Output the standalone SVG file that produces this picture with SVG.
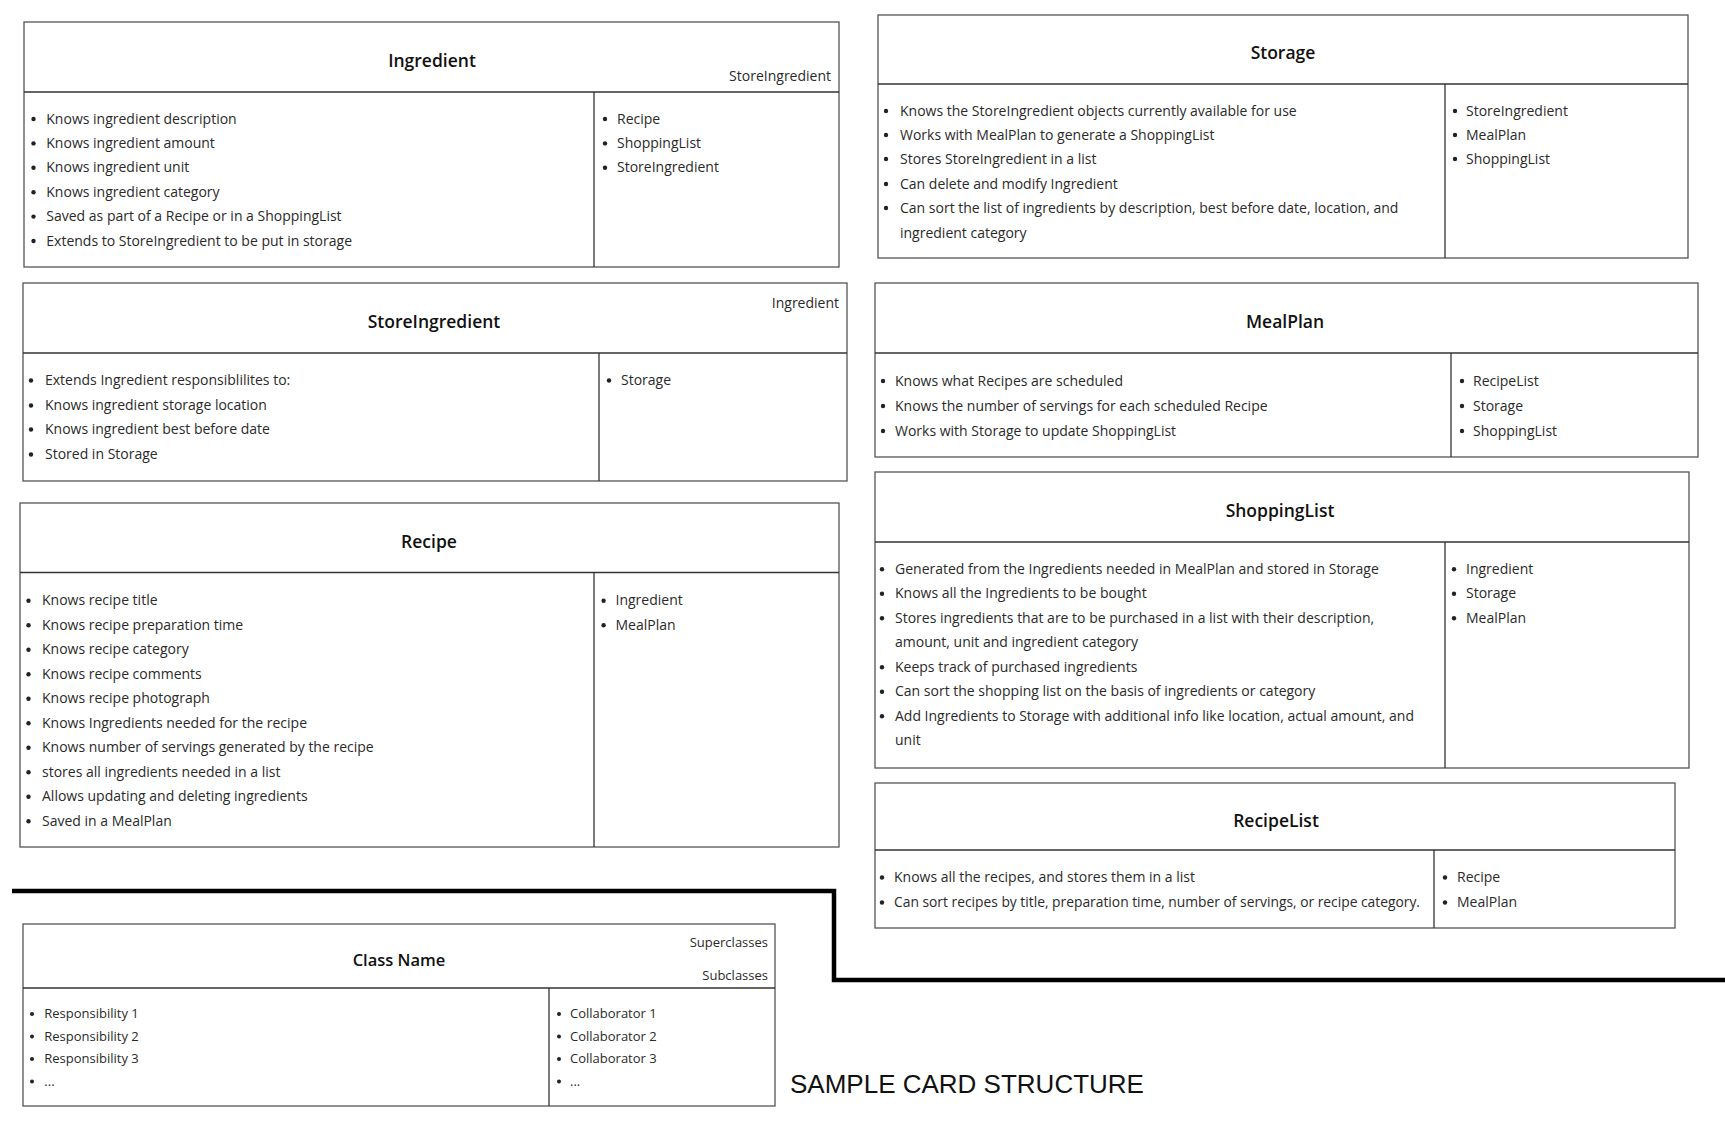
<svg xmlns="http://www.w3.org/2000/svg" width="1725" height="1121" viewBox="0 0 1725 1121">
<style>
.card{fill:#fff;stroke:#555;stroke-width:1.3}
.sep{stroke:#333;stroke-width:1.3}
.title{font-family:"Open Sans","Liberation Sans",sans-serif;font-size:17.5px;font-weight:600;fill:#111;text-anchor:middle}
.t{font-family:"Open Sans","Liberation Sans",sans-serif;font-size:14px;fill:#2a2a2a}
.s{font-family:"Open Sans","Liberation Sans",sans-serif;font-size:13px;fill:#2a2a2a}
.r{text-anchor:end}
.b{fill:#222}
</style>
<rect width="1725" height="1121" fill="#fff"/>
<g id="connectors">
<polyline points="12,891 834,891 834,980 1725,980" fill="none" stroke="#000" stroke-width="4.5"/>
</g>
<g id="ingredient">
<rect class="card" x="24" y="22" width="815" height="245"/>
<line class="sep" x1="24" y1="92" x2="839" y2="92"/>
<line class="sep" x1="594" y1="92" x2="594" y2="267"/>
<text class="title" x="432" y="67">Ingredient</text>
<text class="t r" x="831" y="81">StoreIngredient</text>
<g class="b"><circle cx="33.5" cy="119" r="2.2"/><circle cx="33.5" cy="143.4" r="2.2"/><circle cx="33.5" cy="167.8" r="2.2"/><circle cx="33.5" cy="192.2" r="2.2"/><circle cx="33.5" cy="216.6" r="2.2"/><circle cx="33.5" cy="241" r="2.2"/>
<circle cx="605" cy="119" r="2.2"/><circle cx="605" cy="143.4" r="2.2"/><circle cx="605" cy="167.8" r="2.2"/></g>
<text class="t" x="46.3" y="123.5">Knows ingredient description</text>
<text class="t" x="46.3" y="147.9">Knows ingredient amount</text>
<text class="t" x="46.3" y="172.3">Knows ingredient unit</text>
<text class="t" x="46.3" y="196.7">Knows ingredient category</text>
<text class="t" x="46.3" y="221.1">Saved as part of a Recipe or in a ShoppingList</text>
<text class="t" x="46.3" y="245.5">Extends to StoreIngredient to be put in storage</text>
<text class="t" x="617" y="123.5">Recipe</text>
<text class="t" x="617" y="147.9">ShoppingList</text>
<text class="t" x="617" y="172.3">StoreIngredient</text>
</g>
<g id="storage">
<rect class="card" x="878" y="15" width="810" height="243"/>
<line class="sep" x1="878" y1="84" x2="1688" y2="84"/>
<line class="sep" x1="1445" y1="84" x2="1445" y2="258"/>
<text class="title" x="1283" y="59">Storage</text>
<g class="b"><circle cx="886" cy="111" r="2.2"/><circle cx="886" cy="135" r="2.2"/><circle cx="886" cy="159" r="2.2"/><circle cx="886" cy="184" r="2.2"/><circle cx="886" cy="208" r="2.2"/>
<circle cx="1455" cy="111" r="2.2"/><circle cx="1455" cy="135" r="2.2"/><circle cx="1455" cy="159" r="2.2"/></g>
<text class="t" x="900" y="115.5">Knows the StoreIngredient objects currently available for use</text>
<text class="t" x="900" y="139.5">Works with MealPlan to generate a ShoppingList</text>
<text class="t" x="900" y="163.5">Stores StoreIngredient in a list</text>
<text class="t" x="900" y="188.5">Can delete and modify Ingredient</text>
<text class="t" x="900" y="212.5">Can sort the list of ingredients by description, best before date, location, and</text>
<text class="t" x="900" y="237.5">ingredient category</text>
<text class="t" x="1466" y="115.5">StoreIngredient</text>
<text class="t" x="1466" y="139.5">MealPlan</text>
<text class="t" x="1466" y="163.5">ShoppingList</text>
</g>
<g id="storeingredient">
<rect class="card" x="23" y="283" width="824" height="198"/>
<line class="sep" x1="23" y1="353" x2="847" y2="353"/>
<line class="sep" x1="599" y1="353" x2="599" y2="481"/>
<text class="title" x="434" y="328">StoreIngredient</text>
<text class="t r" x="839" y="308">Ingredient</text>
<g class="b"><circle cx="31" cy="380.5" r="2.2"/><circle cx="31" cy="405.5" r="2.2"/><circle cx="31" cy="429.5" r="2.2"/><circle cx="31" cy="454.5" r="2.2"/>
<circle cx="609" cy="380.5" r="2.2"/></g>
<text class="t" x="45" y="385">Extends Ingredient responsiblilites to:</text>
<text class="t" x="45" y="410">Knows ingredient storage location</text>
<text class="t" x="45" y="434">Knows ingredient best before date</text>
<text class="t" x="45" y="459">Stored in Storage</text>
<text class="t" x="621" y="385">Storage</text>
</g>
<g id="recipe">
<rect class="card" x="20" y="503" width="819" height="344"/>
<line class="sep" x1="20" y1="572.5" x2="839" y2="572.5"/>
<line class="sep" x1="594" y1="572.5" x2="594" y2="847"/>
<text class="title" x="429" y="548">Recipe</text>
<g class="b"><circle cx="28.5" cy="600.8" r="2.2"/><circle cx="28.5" cy="625.3" r="2.2"/><circle cx="28.5" cy="649.8" r="2.2"/><circle cx="28.5" cy="674.3" r="2.2"/><circle cx="28.5" cy="698.8" r="2.2"/><circle cx="28.5" cy="723.3" r="2.2"/><circle cx="28.5" cy="747.8" r="2.2"/><circle cx="28.5" cy="772.3" r="2.2"/><circle cx="28.5" cy="796.8" r="2.2"/><circle cx="28.5" cy="821.3" r="2.2"/>
<circle cx="603.6" cy="600.8" r="2.2"/><circle cx="603.6" cy="625.3" r="2.2"/></g>
<text class="t" x="42" y="605.3">Knows recipe title</text>
<text class="t" x="42" y="629.8">Knows recipe preparation time</text>
<text class="t" x="42" y="654.3">Knows recipe category</text>
<text class="t" x="42" y="678.8">Knows recipe comments</text>
<text class="t" x="42" y="703.3">Knows recipe photograph</text>
<text class="t" x="42" y="727.8">Knows Ingredients needed for the recipe</text>
<text class="t" x="42" y="752.3">Knows number of servings generated by the recipe</text>
<text class="t" x="42" y="776.8">stores all ingredients needed in a list</text>
<text class="t" x="42" y="801.3">Allows updating and deleting ingredients</text>
<text class="t" x="42" y="825.8">Saved in a MealPlan</text>
<text class="t" x="615.5" y="605.3">Ingredient</text>
<text class="t" x="615.5" y="629.8">MealPlan</text>
</g>
<g id="mealplan">
<rect class="card" x="875" y="283" width="823" height="174"/>
<line class="sep" x1="875" y1="353" x2="1698" y2="353"/>
<line class="sep" x1="1451" y1="353" x2="1451" y2="457"/>
<text class="title" x="1285" y="328">MealPlan</text>
<g class="b"><circle cx="883" cy="381" r="2.2"/><circle cx="883" cy="406" r="2.2"/><circle cx="883" cy="431" r="2.2"/>
<circle cx="1462" cy="381" r="2.2"/><circle cx="1462" cy="406" r="2.2"/><circle cx="1462" cy="431" r="2.2"/></g>
<text class="t" x="895" y="385.5">Knows what Recipes are scheduled</text>
<text class="t" x="895" y="410.5">Knows the number of servings for each scheduled Recipe</text>
<text class="t" x="895" y="435.5">Works with Storage to update ShoppingList</text>
<text class="t" x="1473" y="385.5">RecipeList</text>
<text class="t" x="1473" y="410.5">Storage</text>
<text class="t" x="1473" y="435.5">ShoppingList</text>
</g>
<g id="shoppinglist">
<rect class="card" x="875" y="472" width="814" height="296"/>
<line class="sep" x1="875" y1="542" x2="1689" y2="542"/>
<line class="sep" x1="1445" y1="542" x2="1445" y2="768"/>
<text class="title" x="1280" y="517">ShoppingList</text>
<g class="b"><circle cx="882" cy="569.3" r="2.2"/><circle cx="882" cy="593.8" r="2.2"/><circle cx="882" cy="618.3" r="2.2"/><circle cx="882" cy="667.3" r="2.2"/><circle cx="882" cy="691.8" r="2.2"/><circle cx="882" cy="716.3" r="2.2"/>
<circle cx="1454" cy="569.3" r="2.2"/><circle cx="1454" cy="593.8" r="2.2"/><circle cx="1454" cy="618.3" r="2.2"/></g>
<text class="t" x="895" y="573.8">Generated from the Ingredients needed in MealPlan and stored in Storage</text>
<text class="t" x="895" y="598.3">Knows all the Ingredients to be bought</text>
<text class="t" x="895" y="622.8">Stores ingredients that are to be purchased in a list with their description,</text>
<text class="t" x="895" y="647.3">amount, unit and ingredient category</text>
<text class="t" x="895" y="671.8">Keeps track of purchased ingredients</text>
<text class="t" x="895" y="696.3">Can sort the shopping list on the basis of ingredients or category</text>
<text class="t" x="895" y="720.8">Add Ingredients to Storage with additional info like location, actual amount, and</text>
<text class="t" x="895" y="745.3">unit</text>
<text class="t" x="1466" y="573.8">Ingredient</text>
<text class="t" x="1466" y="598.3">Storage</text>
<text class="t" x="1466" y="622.8">MealPlan</text>
</g>
<g id="recipelist">
<rect class="card" x="875" y="783" width="800" height="145"/>
<line class="sep" x1="875" y1="850" x2="1675" y2="850"/>
<line class="sep" x1="1434" y1="850" x2="1434" y2="928"/>
<text class="title" x="1276" y="827">RecipeList</text>
<g class="b"><circle cx="882" cy="877.5" r="2.2"/><circle cx="882" cy="902.5" r="2.2"/>
<circle cx="1445" cy="877.5" r="2.2"/><circle cx="1445" cy="902.5" r="2.2"/></g>
<text class="t" x="894" y="882">Knows all the recipes, and stores them in a list</text>
<text class="t" x="894" y="907" textLength="526" lengthAdjust="spacingAndGlyphs">Can sort recipes by title, preparation time, number of servings, or recipe category.</text>
<text class="t" x="1457" y="882">Recipe</text>
<text class="t" x="1457" y="907">MealPlan</text>
</g>
<g id="sample-card">
<rect class="card" x="23" y="924" width="752" height="182"/>
<line class="sep" x1="23" y1="988" x2="775" y2="988"/>
<line class="sep" x1="549" y1="988" x2="549" y2="1106"/>
<text class="title" x="399" y="966" style="font-size:16.5px">Class Name</text>
<text class="s r" x="768" y="947">Superclasses</text>
<text class="s r" x="768" y="980">Subclasses</text>
<g class="b"><circle cx="32" cy="1014" r="2"/><circle cx="32" cy="1036.5" r="2"/><circle cx="32" cy="1059" r="2"/><circle cx="32" cy="1081.5" r="2"/>
<circle cx="559" cy="1014" r="2"/><circle cx="559" cy="1036.5" r="2"/><circle cx="559" cy="1059" r="2"/><circle cx="559" cy="1081.5" r="2"/></g>
<text class="s" x="44.3" y="1018">Responsibility 1</text>
<text class="s" x="44.3" y="1040.5">Responsibility 2</text>
<text class="s" x="44.3" y="1063">Responsibility 3</text>
<text class="s" x="44.3" y="1085.5">...</text>
<text class="s" x="570" y="1018">Collaborator 1</text>
<text class="s" x="570" y="1040.5">Collaborator 2</text>
<text class="s" x="570" y="1063">Collaborator 3</text>
<text class="s" x="570" y="1085.5">...</text>
</g>
<text x="790" y="1093" style="font-family:'Liberation Sans',Arial,sans-serif;font-size:26px;fill:#111">SAMPLE CARD STRUCTURE</text>
</svg>
